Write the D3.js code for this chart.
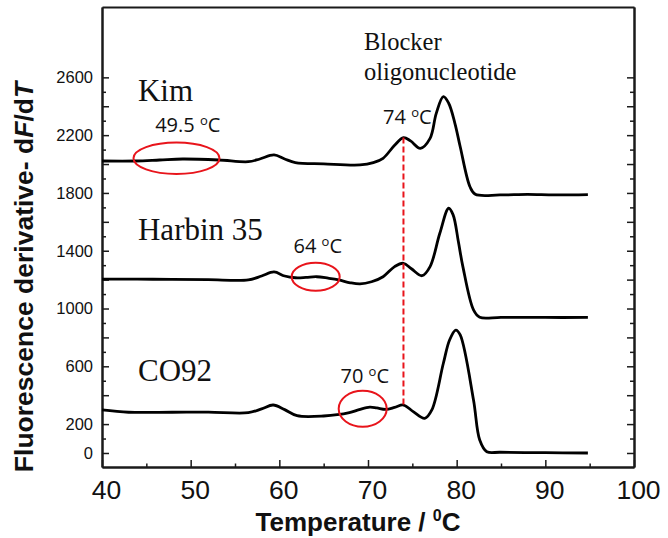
<!DOCTYPE html>
<html>
  <head>
    <meta charset="utf-8">
    <title>Fluorescence derivative melting curves</title>
    <script src="https://d3js.org/d3.v7.min.js"></script>
    <style>
      body { margin: 0; background: #fff; }
      svg { display: block; }
    </style>
  </head>
  <body>
    <div id="chart"></div>
    <script>
      // Melting curves (temperature in degC, dF/dT)
      var kimT = [40, 43.8, 46.5, 49.1, 53.2, 56.5, 57.8, 59.4, 60.6, 61.8, 65, 69.1, 70.6, 71.7, 73, 74, 74.8, 75.9, 77, 77.7, 78.5, 79.1, 79.8, 80.4, 81.5, 82.1, 84.9, 88, 91, 94.8];
      var kimV = [2021, 2021, 2028, 2035, 2028, 2016, 2035, 2063, 2035, 2010, 2001, 1994, 2010, 2040, 2130, 2183, 2160, 2109, 2178, 2351, 2466, 2421, 2282, 2120, 1843, 1791, 1786, 1790, 1786, 1788];

      var harbinT = [40, 44, 47.9, 52, 56.5, 58, 59.4, 60.6, 61.8, 63, 64.2, 65.5, 66.7, 68, 69.1, 70.4, 71.7, 73, 74, 74.9, 76.1, 77, 78.1, 79.1, 79.6, 80.2, 80.7, 81.9, 82.6, 85, 90, 94.8];
      var harbinV = [1204, 1203, 1202, 1200, 1198, 1225, 1253, 1225, 1213, 1215, 1220, 1210, 1198, 1178, 1170, 1185, 1220, 1290, 1313, 1275, 1227, 1290, 1521, 1694, 1648, 1460, 1290, 990, 939, 939, 938, 938];

      var co92T = [40, 43, 47.9, 52, 56.5, 58, 59.3, 60.6, 62, 65, 67.9, 69, 70.2, 71, 72, 73, 74, 75.1, 76.4, 77.2, 78.5, 79.2, 79.9, 80.4, 81.9, 82.6, 83.4, 84.9, 90, 94.8];
      var co92V = [298, 282, 282, 283, 279, 305, 332, 300, 258, 256, 279, 300, 318, 312, 302, 315, 332, 286, 240, 298, 621, 782, 851, 817, 367, 90, 9, 5, 2, 0];

      var seriesNames = ["Kim", "Harbin 35", "CO92"];

      // axis ticks
      var xMajor = [40, 50, 60, 70, 80, 90, 100];
      var xMinor = [45, 55, 65, 75, 85, 95];
      var yLabels = [0, 200, 600, 1000, 1400, 1800, 2200, 2600];

      // annotations (data coordinates)
      var circledT = [48.4, 64.1, 69.4];
      var circledV = [2040, 1220, 306];
      var circledTexts = ["49.5", "64", "70"];
      var circledTextT = [46.0, 61.6, 66.9];
      var circledTextV = [2224, 1387, 487];
      var nameT = 44.06;
      var nameV = [2437, 1474, 498];
      var blockerT = 74;

      var width = 668, height = 538;
      var svg = d3.select("#chart").append("svg")
          .attr("width", width)
          .attr("height", height);

      var x = d3.scaleLinear().domain([40, 100]).range([102, 634]);
      var y = d3.scaleLinear().domain([-97, 3087]).range([467, 7]);

      var axisColor = "#1a1a1a";

      function styleAxis(g) {
        g.select(".domain").attr("stroke", axisColor).attr("stroke-width", 2);
        g.selectAll(".tick line").attr("stroke", axisColor).attr("stroke-width", 1.5);
      }

      // y ticks every 100, long ones every 200
      var yMajor = d3.range(0, 2601, 200);
      var yMinor = d3.range(100, 2600, 200);

      // bottom axis
      svg.append("g")
         .attr("transform", "translate(0,467)")
         .call(d3.axisBottom(x).tickValues(xMinor).tickSize(-3.5).tickSizeOuter(0).tickFormat(""))
         .call(styleAxis);
      var xAx = svg.append("g")
         .attr("transform", "translate(0,467)")
         .call(d3.axisBottom(x).tickValues(xMajor).tickSize(-7).tickSizeOuter(0).tickPadding(13))
         .call(styleAxis);
      xAx.selectAll("text")
         .attr("font-family", "'Liberation Sans', Arial, sans-serif")
         .attr("font-size", 26.5)
         .attr("fill", "#111")
         .attr("dx", 4);

      // left axis
      svg.append("g")
         .attr("transform", "translate(102,0)")
         .call(d3.axisLeft(y).tickValues(yMinor).tickSize(-4).tickSizeOuter(0).tickFormat(""))
         .call(styleAxis);
      var yAx = svg.append("g")
         .attr("transform", "translate(102,0)")
         .call(d3.axisLeft(y).tickValues(yMajor).tickSize(-7).tickSizeOuter(0).tickPadding(9)
               .tickFormat(function(d) { return yLabels.indexOf(d) >= 0 ? d : ""; }))
         .call(styleAxis);
      yAx.selectAll("text")
         .attr("font-family", "'Liberation Sans', Arial, sans-serif")
         .attr("font-size", 16.5)
         .attr("fill", "#111");

      // right axis
      svg.append("g")
         .attr("transform", "translate(634,0)")
         .call(d3.axisRight(y).tickValues(yMinor).tickSize(-4).tickSizeOuter(0).tickFormat(""))
         .call(styleAxis);
      svg.append("g")
         .attr("transform", "translate(634,0)")
         .call(d3.axisRight(y).tickValues(yMajor).tickSize(-7).tickSizeOuter(0).tickFormat(""))
         .call(styleAxis);

      // top frame
      svg.append("g")
         .attr("transform", "translate(0,7)")
         .call(d3.axisTop(x).tickValues([]).tickSizeOuter(0))
         .call(styleAxis);

      // axis titles
      svg.append("text")
         .attr("x", 358)
         .attr("y", 531)
         .attr("text-anchor", "middle")
         .attr("font-family", "'Liberation Sans', Arial, sans-serif")
         .attr("font-weight", "bold")
         .attr("font-size", 26)
         .attr("fill", "#111")
         .call(function(t) {
           t.append("tspan").text("Temperature / ");
           t.append("tspan").attr("font-size", 16).attr("dy", -10).text("0");
           t.append("tspan").attr("dy", 10).text("C");
         });

      svg.append("text")
         .attr("transform", "translate(33,277) rotate(-90)")
         .attr("text-anchor", "middle")
         .attr("font-family", "'Liberation Sans', Arial, sans-serif")
         .attr("font-weight", "bold")
         .attr("font-size", 26.5)
         .attr("fill", "#111")
         .call(function(t) {
           t.append("tspan").text("Fluorescence derivative- d");
           t.append("tspan").attr("font-style", "italic").text("F");
           t.append("tspan").text("/d");
           t.append("tspan").attr("font-style", "italic").text("T");
         });

      // curves
      var allT = [kimT, harbinT, co92T];
      var allV = [kimV, harbinV, co92V];
      var line = d3.line()
          .x(function(d) { return x(d[0]); })
          .y(function(d) { return y(d[1]); })
          .curve(d3.curveCatmullRom.alpha(0.5));

      allT.forEach(function(ts, i) {
        var pts = ts.map(function(t, j) { return [t, allV[i][j]]; });
        svg.append("path")
           .datum(pts)
           .attr("fill", "none")
           .attr("stroke", "#000")
           .attr("stroke-width", 2.8)
           .attr("stroke-linejoin", "round")
           .attr("d", line);
      });

      // series names
      seriesNames.forEach(function(n, i) {
        svg.append("text")
           .attr("x", x(nameT))
           .attr("y", y(nameV[i]))
           .attr("font-family", "'Liberation Serif', 'Times New Roman', serif")
           .attr("font-size", 31)
           .attr("fill", "#111")
           .text(n);
      });

      // blocker dashed line at 74 degC, from Kim's peak to CO92's peak
      svg.append("line")
         .attr("x1", x(blockerT)).attr("x2", x(blockerT))
         .attr("y1", y(kimV[kimT.indexOf(blockerT)]))
         .attr("y2", y(co92V[co92T.indexOf(blockerT)]))
         .attr("stroke", "#e8141b")
         .attr("stroke-width", 2)
         .attr("stroke-dasharray", "6,3");

      svg.append("text")
         .attr("x", x(69.55))
         .attr("y", y(2790))
         .attr("font-family", "'Liberation Serif', 'Times New Roman', serif")
         .attr("font-size", 24.5)
         .attr("fill", "#111")
         .text("Blocker");
      svg.append("text")
         .attr("x", x(69.55))
         .attr("y", y(2582))
         .attr("font-family", "'Liberation Serif', 'Times New Roman', serif")
         .attr("font-size", 24.5)
         .attr("fill", "#111")
         .text("oligonucleotide");

      // circled regions
      var rx = [43, 24, 24], ry = [15.7, 14, 18];
      circledT.forEach(function(t, i) {
        svg.append("ellipse")
           .attr("cx", x(t))
           .attr("cy", y(circledV[i]))
           .attr("rx", rx[i])
           .attr("ry", ry[i])
           .attr("fill", "none")
           .attr("stroke", "#e8141b")
           .attr("stroke-width", 2);
      });

      // temperature labels
      function tempLabel(tx, tv, txt) {
        svg.append("text")
           .attr("x", x(tx))
           .attr("y", y(tv))
           .attr("font-family", "'Open Sans', 'Noto Sans', sans-serif")
           .attr("font-size", 20)
           .attr("fill", "#111")
           .call(function(t) {
             t.append("tspan").text(txt + " ");
             t.append("tspan").attr("font-size", 13).attr("dy", -7).text("o");
             t.append("tspan").attr("dy", 7).text("C");
           });
      }
      circledTexts.forEach(function(txt, i) {
        tempLabel(circledTextT[i], circledTextV[i], txt);
      });
      tempLabel(71.7, 2277, "74");
    </script>
  </body>
</html>
